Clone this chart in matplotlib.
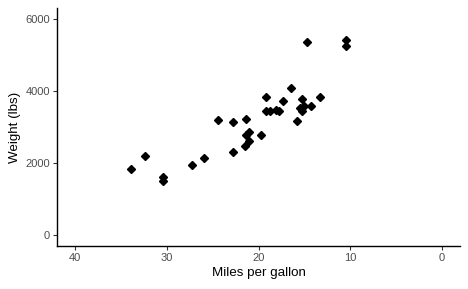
import matplotlib
matplotlib.use("Agg")
import matplotlib.pyplot as plt

mpg = [21.0, 21.0, 22.8, 21.4, 18.7, 18.1, 14.3, 24.4, 22.8, 19.2, 17.8, 16.4, 17.3, 15.2, 10.4, 10.4,
       14.7, 32.4, 30.4, 33.9, 21.5, 15.5, 15.2, 13.3, 19.2, 27.3, 26.0, 30.4, 15.8, 19.7, 15.0, 21.4]
weight = [2620, 2875, 2320, 3215, 3440, 3460, 3570, 3190, 3150, 3440, 3440, 4070, 3730, 3780, 5250, 5424,
          5345, 2200, 1615, 1835, 2465, 3520, 3435, 3840, 3845, 1935, 2140, 1513, 3170, 2770, 3570, 2780]
x_ticks = [40, 30, 20, 10, 0]
y_ticks = [0, 2000, 4000, 6000]

plt.rcParams['font.family'] = ['Liberation Sans', 'DejaVu Sans']
fig = plt.figure(figsize=(4.68, 2.89), dpi=100)
ax = fig.add_axes([57/468, 1-246/289, (460-57)/468, (246-8)/289])
ax.plot(mpg, weight, linestyle='none', marker='D', markersize=4.2, color='black')
ax.set_xlim(42, -2)
ax.set_ylim(-300, 6300)
ax.set_xticks(x_ticks)
ax.set_yticks(y_ticks)
ax.spines['top'].set_visible(False)
ax.spines['right'].set_visible(False)
for s in ['left', 'bottom']:
    ax.spines[s].set_linewidth(1.0)
ax.tick_params(axis='both', labelsize=8, labelcolor='#4D4D4D', length=3, width=0.8, color='#333333', pad=2)
ax.set_xlabel('Miles per gallon', fontsize=9.6, color='black', labelpad=3)
ax.set_ylabel('Weight (lbs)', fontsize=9.6, color='black', labelpad=3)
fig.savefig('out.png', dpi=100)
